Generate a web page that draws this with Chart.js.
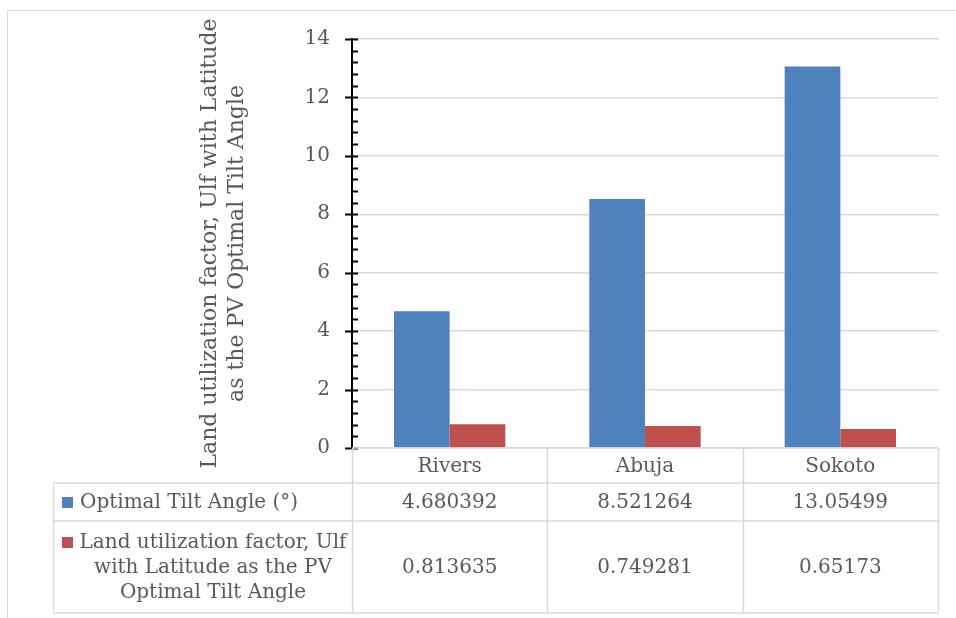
<!DOCTYPE html>
<html>
<head>
<meta charset="utf-8">
<script src="https://cdn.jsdelivr.net/npm/chart.js@4.4.1/dist/chart.umd.min.js"></script>
<style>
  html, body { margin: 0; padding: 0; background: #fff; }
  canvas { display: block; }
</style>
</head>
<body>
<canvas id="chart" width="956" height="618"></canvas>
<script>
const categories = ['Rivers', 'Abuja', 'Sokoto'];
const tiltAngle = [4.680392, 8.521264, 13.05499];
const landFactor = [0.813635, 0.749281, 0.65173];
const tiltLabel = 'Optimal Tilt Angle (°)';
const landLabelLines = ['Land utilization factor, Ulf', 'with Latitude as the PV', 'Optimal Tilt Angle'];
const yTitleLines = ['Land utilization factor, Ulf with Latitude', 'as the PV Optimal Tilt Angle'];
const yMin = 0, yMax = 14, yStep = 2, yMinorStep = 0.4;

const blue = '#4F81BD';
const red = '#C0504D';
const textGrey = '#595959';
const lineGrey = '#D9D9D9';
const fontFamily = "'DejaVu Serif', serif";

Chart.defaults.font.family = fontFamily;
Chart.defaults.color = textGrey;

// draws the frame, the minor/major ticks and the data table under the plot
const tablePlugin = {
  id: 'dataTable',
  beforeDraw(chart) {
    const ctx = chart.ctx;
    ctx.save();
    ctx.strokeStyle = lineGrey;
    ctx.lineWidth = 1;
    ctx.strokeRect(7.5, 10.5, 970, 700);
    ctx.restore();
  },
  afterDraw(chart) {
    const ctx = chart.ctx;
    const x = chart.scales.x;
    const y = chart.scales.y;
    const area = chart.chartArea;
    const colW = (area.right - area.left) / categories.length;

    // tick marks on the value axis
    ctx.save();
    ctx.strokeStyle = '#000';
    ctx.lineWidth = 2;
    const nMinor = Math.round((yMax - yMin) / yMinorStep);
    for (let i = 0; i <= nMinor; i++) {
      const v = yMin + i * yMinorStep;
      const py = Math.round(y.getPixelForValue(v)) + 0.5;
      const major = Math.abs(v / yStep - Math.round(v / yStep)) < 1e-6;
      ctx.beginPath();
      ctx.moveTo(area.left - (major ? 7 : 0), py);
      ctx.lineTo(area.left + 6, py);
      ctx.stroke();
    }
    ctx.restore();

    // table grid
    const top = area.bottom;
    const r1 = top + 35;
    const r2 = r1 + 38;
    const r3 = r2 + 92;
    const legendLeft = 53.5;
    ctx.save();
    ctx.strokeStyle = lineGrey;
    ctx.lineWidth = 1.5;
    ctx.beginPath();
    ctx.moveTo(area.left, top); ctx.lineTo(area.right, top);
    [r1, r2, r3].forEach(ry => { ctx.moveTo(legendLeft, ry); ctx.lineTo(area.right, ry); });
    ctx.moveTo(legendLeft, r1); ctx.lineTo(legendLeft, r3);
    for (let i = 0; i <= categories.length; i++) {
      const cx = Math.round(area.left + i * colW) + 0.5;
      ctx.moveTo(cx, top); ctx.lineTo(cx, r3);
    }
    ctx.stroke();

    ctx.fillStyle = textGrey;
    ctx.font = '20px ' + fontFamily;
    ctx.textBaseline = 'middle';
    ctx.textAlign = 'center';
    categories.forEach((c, i) => {
      const cx = x.getPixelForValue(i);
      ctx.fillText(c, cx, (top + r1) / 2 + 1);
      ctx.fillText(String(tiltAngle[i]), cx, (r1 + r2) / 2 + 1);
      ctx.fillText(String(landFactor[i]), cx, (r2 + r3) / 2 + 1);
    });

    // legend keys
    const keyX = 62, textX = 80;
    ctx.fillStyle = blue;
    ctx.fillRect(keyX, (r1 + r2) / 2 - 5, 11, 11);
    ctx.fillStyle = textGrey;
    ctx.textAlign = 'left';
    ctx.fillText(tiltLabel, textX, (r1 + r2) / 2 + 1);

    const lineH = 25;
    const midY = (r2 + r3) / 2;
    ctx.fillStyle = red;
    ctx.fillRect(keyX, midY - lineH - 5, 11, 11);
    ctx.fillStyle = textGrey;
    ctx.textAlign = 'center';
    const textCenter = (textX + area.left - 6) / 2;
    landLabelLines.forEach((t, i) => {
      ctx.fillText(t, textCenter, midY + (i - 1) * lineH + 1);
    });
    ctx.restore();
  }
};

new Chart(document.getElementById('chart'), {
  type: 'bar',
  data: {
    labels: categories,
    datasets: [
      { label: tiltLabel, data: tiltAngle, backgroundColor: blue },
      { label: landLabelLines.join(' '), data: landFactor, backgroundColor: red }
    ]
  },
  options: {
    responsive: false,
    animation: false,
    layout: { padding: { left: 0, top: 39, right: 18, bottom: 170 } },
    datasets: { bar: { categoryPercentage: 0.57, barPercentage: 1 } },
    plugins: { legend: { display: false }, tooltip: { enabled: false } },
    scales: {
      x: { display: false },
      y: {
        min: yMin,
        max: yMax,
        ticks: { stepSize: yStep, padding: 22, font: { size: 20 }, color: textGrey },
        grid: { color: lineGrey, lineWidth: 1.5, drawTicks: false },
        border: { color: '#000', width: 2 },
        title: {
          display: true,
          text: yTitleLines,
          color: textGrey,
          font: { size: 22, lineHeight: 1.23 },
          padding: { top: 197, bottom: 0 }
        },
        afterFit(scale) { scale.width = 352; }
      }
    }
  },
  plugins: [tablePlugin]
});
</script>
</body>
</html>
